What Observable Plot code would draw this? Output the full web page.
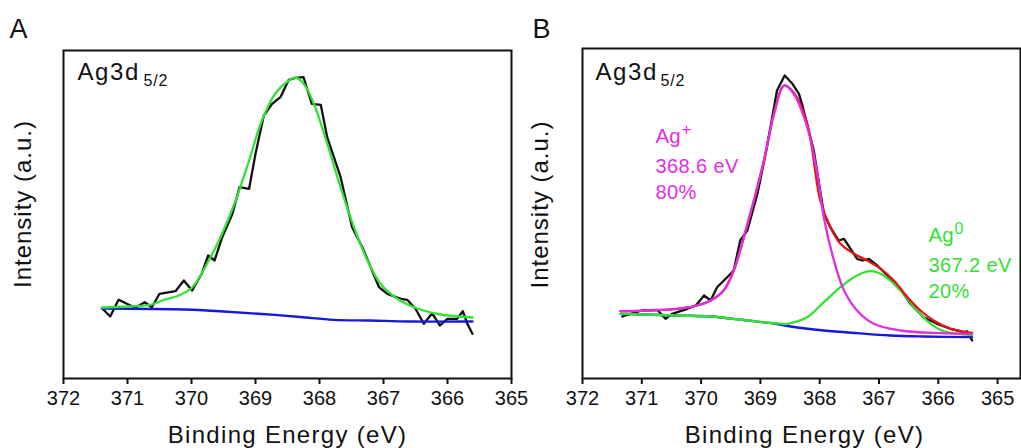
<!DOCTYPE html>
<html><head><meta charset="utf-8">
<script src="https://cdn.jsdelivr.net/npm/d3@7"></script>
<script src="https://cdn.jsdelivr.net/npm/@observablehq/plot@0.6"></script>
<style>
body{margin:0;background:#fff;}
#wrap{display:flex;width:1021px;height:448px;overflow:hidden;background:#fff}
</style></head><body><div id="wrap"></div>
<script>
// ---------- shared ----------
const tickValues = [372, 371, 370, 369, 368, 367, 366, 365];
const xTitle = "Binding Energy (eV)";
const yTitle = "Intensity (a.u.)";

// ---------- Panel A ----------
const aEnergy = [371.39,371.27,371.14,370.88,370.73,370.62,370.50,370.25,370.12,369.99,369.84,369.74,369.64,369.52,369.36,369.25,369.10,369.00,368.87,368.74,368.61,368.48,368.38,368.25,368.12,367.98,367.88,367.67,367.49,367.33,367.20,367.07,366.94,366.73,366.63,366.50,366.37,366.24,366.12,366.00,365.85,365.76,365.69,365.61];
const aRaw    = [69.7,62,78.7,70.7,76.3,71.3,84.7,87.3,98,88,104.7,123,118,141.3,164.7,191.3,189.7,224.7,263,274.7,281.3,298.7,300.7,301.3,274.7,273.7,241.3,201.3,151.3,131.3,111.3,91.3,84.7,79.7,78.7,69.7,54.7,65.3,53,59.7,59.7,67.3,54.7,44.7];
const aFitEnergy = [371.40,370.98,370.62,370.46,370.20,369.99,369.73,369.52,369.31,369.10,368.90,368.69,368.48,368.38,368.25,368.09,367.88,367.67,367.46,367.25,367.05,366.79,366.47,366.11,365.61];
const aFit       = [71,72,74,78,83,91,118,145,178,218,258,285,298,301,295,275,235,191,151,118,95,80,70,64,61];
const aBgEnergy = [371.40,370.10,369.50,368.90,368.30,367.78,367.20,366.60,365.61];
const aBg       = [70,69,67,64.5,61.5,58.7,58,57,57];

// ---------- Panel B ----------
const bEnergy = [371.33,371.00,370.74,370.60,370.49,370.23,370.09,369.95,369.84,369.73,369.56,369.45,369.34,369.22,369.05,368.89,368.72,368.59,368.46,368.35,368.30,368.10,367.93,367.82,367.68,367.59,367.37,367.28,367.17,367.03,366.86,366.64,366.47,366.25,366.02,365.79,365.57,365.51,365.43];
const bRaw    = [62,68,68.7,59.7,64.7,69.7,73,83,78,91.3,101.3,108,138,148,184.7,231.3,288,303,294.7,284.7,274.7,228,164.7,151.3,138,139.7,119.7,118,119.7,113,103,89.7,74.7,61.3,54.7,49.7,46.3,47,38];
const bEnvEnergy = [371.36,370.40,370.07,369.84,369.62,369.45,369.28,369.11,368.94,368.77,368.60,368.44,368.21,367.99,367.82,367.65,367.42,367.20,366.97,366.75,366.52,366.30,366.08,365.79,365.43];
const bEnv       = [67.3,69.7,73,78,88,108,141.3,178,218,265,293,286,254.7,178,151.3,134.7,124.7,118,109.7,98,81.3,68,58,49.7,45.5];
const bAgPlusEnergy = [371.36,370.40,370.07,369.84,369.62,369.45,369.28,369.11,368.94,368.77,368.60,368.44,368.21,368.04,367.93,367.76,367.59,367.37,367.09,366.64,365.96,365.43];
const bAgPlus       = [67.3,69.7,73,78,88,108,141.3,178,218,264.7,293,284.7,251.3,204.7,161,118,88,68,54.7,48,45.3,44.7];
const bAg0Energy = [371.36,370.40,369.84,369.28,368.72,368.55,368.49,368.21,367.93,367.65,367.37,367.14,366.92,366.64,366.36,366.13,365.91,365.43];
const bAg0       = [64.7,63,62,58.5,55,54.5,55.3,61.3,76.3,91.3,103,107.3,103,88,68,54.7,47.3,43.5];
const bBgEnergy = [371.36,370.40,369.84,369.28,368.72,368.49,367.93,367.37,366.81,366.25,365.43];
const bBg       = [64.7,63,62,58.5,54.5,52,48,45.3,43,42,41.3];

// ---------- colours ----------
const cBlack = "#111111", cGreen = "#33e033", cBlue = "#1717dd", cRed = "#e21414", cMag = "#e22ee2";
const FONT = "'Liberation Sans', Arial, Helvetica, sans-serif";

const rows = (xs, ys) => xs.map((e, i) => ({e, v: ys[i]}));
const line = (xs, ys, stroke, curve = "linear") =>
  Plot.line(rows(xs, ys), {x: "e", y: "v", stroke, strokeWidth: 2.3, curve});

function commonMarks(xDx, yDx, yDy) {
  return [
    Plot.axisX({ticks: tickValues, tickFormat: d => String(d), tickSize: 6, tickPadding: 6,
      fontSize: 20, strokeWidth: 2, stroke: cBlack, fill: cBlack, label: null}),
    Plot.text([xTitle], {frameAnchor: "bottom", dx: xDx, dy: 47, lineAnchor: "top",
      textAnchor: "middle", fontSize: 24, fill: cBlack}),
    Plot.text([yTitle], {frameAnchor: "left", rotate: -90, dx: yDx, dy: yDy, lineAnchor: "top",
      textAnchor: "middle", fontSize: 24, fill: cBlack})
  ];
}

// ---------- Plot A ----------
const plotA = Plot.plot({
  width: 530, height: 448,
  marginTop: 50, marginBottom: 70, marginLeft: 63, marginRight: 19,
  x: {domain: [372, 365], label: null},
  y: {domain: [0, 328], axis: null},
  style: {fontFamily: FONT, color: cBlack, background: "white", overflow: "visible"},
  marks: [
    ...commonMarks(0, -50, -10.5),
    line(aEnergy, aRaw, cBlack),
    line(aBgEnergy, aBg, cBlue, "catmull-rom"),
    line(aFitEnergy, aFit, cGreen, "catmull-rom"),
    Plot.frame({stroke: cBlack, strokeWidth: 2}),
    Plot.text(["A"], {frameAnchor: "top-left", dx: -54, dy: -32, lineAnchor: "top", textAnchor: "start", fontSize: 27, fill: cBlack}),
    Plot.text(["Ag3d"], {frameAnchor: "top-left", dx: 14, dy: 12, lineAnchor: "top", textAnchor: "start", fontSize: 24, fill: cBlack}),
    Plot.text(["5/2"], {frameAnchor: "top-left", dx: 80, dy: 24, lineAnchor: "top", textAnchor: "start", fontSize: 16, fill: cBlack})
  ]
});

// ---------- Plot B ----------
const plotB = Plot.plot({
  width: 491, height: 448,
  marginTop: 48, marginBottom: 70, marginLeft: 52, marginRight: 1,
  x: {domain: [372, 364.614], label: null},
  y: {domain: [0, 330], axis: null},
  style: {fontFamily: FONT, color: cBlack, background: "white", overflow: "visible"},
  marks: [
    ...commonMarks(3, -52, -9),
    line(bEnergy, bRaw, cBlack),
    line(bBgEnergy, bBg, cBlue, "catmull-rom"),
    line(bAg0Energy, bAg0, cGreen, "catmull-rom"),
    line(bEnvEnergy, bEnv, cRed, "catmull-rom"),
    line(bAgPlusEnergy, bAgPlus, cMag, "catmull-rom"),
    Plot.frame({stroke: cBlack, strokeWidth: 2}),
    Plot.text(["B"], {frameAnchor: "top-left", dx: -50, dy: -30, lineAnchor: "top", textAnchor: "start", fontSize: 27, fill: cBlack}),
    Plot.text(["Ag3d"], {frameAnchor: "top-left", dx: 13, dy: 14, lineAnchor: "top", textAnchor: "start", fontSize: 24, fill: cBlack}),
    Plot.text(["5/2"], {frameAnchor: "top-left", dx: 78, dy: 26, lineAnchor: "top", textAnchor: "start", fontSize: 16, fill: cBlack}),
    // Ag+ annotation
    Plot.text(["Ag"], {frameAnchor: "top-left", dx: 73, dy: 80, lineAnchor: "top", textAnchor: "start", fontSize: 20.5, fill: cMag}),
    Plot.text(["+"], {frameAnchor: "top-left", dx: 99, dy: 81, lineAnchor: "middle", textAnchor: "start", fontSize: 17, fill: cMag}),
    Plot.text(["368.6 eV\n80%"], {frameAnchor: "top-left", dx: 73, dy: 106, lineAnchor: "top", textAnchor: "start", fontSize: 20, lineHeight: 1.3, fill: cMag}),
    // Ag0 annotation
    Plot.text(["Ag"], {frameAnchor: "top-left", dx: 346, dy: 179, lineAnchor: "top", textAnchor: "start", fontSize: 20.5, fill: cGreen}),
    Plot.text(["0"], {frameAnchor: "top-left", dx: 372, dy: 174, lineAnchor: "top", textAnchor: "start", fontSize: 16, fill: cGreen}),
    Plot.text(["367.2 eV\n20%"], {frameAnchor: "top-left", dx: 346, dy: 205, lineAnchor: "top", textAnchor: "start", fontSize: 20, lineHeight: 1.3, fill: cGreen})
  ]
});

// letter-spacing for the wide-set labels of the original figure; tick label size
const spacing = {
  [xTitle]: 1.3, [yTitle]: 1.0, "Ag3d": 1.6, "5/2": 0.8,
  "368.6 eV80%": 0.4, "367.2 eV20%": 0.4
};
const tickLabels = tickValues.map(String);
for (const svg of [plotA, plotB]) {
  d3.select(svg).selectAll("text").each(function () {
    const t = this.textContent;
    const s = spacing[t];
    if (s != null) this.style.letterSpacing = s + "px";
    if (tickLabels.includes(t)) this.style.fontSize = "20px";
  });
}

const wrap = document.getElementById("wrap");
wrap.appendChild(plotA);
wrap.appendChild(plotB);
</script>
</body></html>
